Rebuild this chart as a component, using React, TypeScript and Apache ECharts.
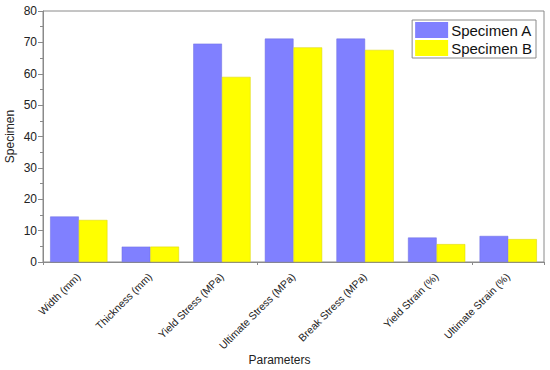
import React, { useEffect, useRef } from "react";
import * as echarts from "echarts";

const categories = [
  "Width (mm)",
  "Thickness (mm)",
  "Yield Stress (MPa)",
  "Ultimate Stress (MPa)",
  "Break Stress (MPa)",
  "Yield Strain (%)",
  "Ultimate Strain (%)",
];
const specimenA = [14.5, 4.9, 69.6, 71.2, 71.2, 7.8, 8.3];
const specimenB = [13.4, 4.9, 59.0, 68.4, 67.6, 5.7, 7.3];
const yTicks = { min: 0, max: 80, interval: 10 };

const FONT = "Liberation Sans, Arial, sans-serif";
const AXIS_COLOR = "#8a8a8a";

export default function App() {
  const ref = useRef<HTMLDivElement>(null);
  useEffect(() => {
    const chart = echarts.init(ref.current!, null, { renderer: "svg" });
    chart.setOption({
      animation: false,
      textStyle: { fontFamily: FONT },
      grid: {
        left: 43,
        right: 6,
        top: 11,
        bottom: 108,
        outerBoundsMode: "none",
        containLabel: false,
        show: true,
        borderColor: AXIS_COLOR,
        borderWidth: 1,
      },
      legend: {
        orient: "vertical",
        right: 14,
        top: 20,
        icon: "rect",
        itemWidth: 33,
        itemHeight: 16,
        itemGap: 2,
        padding: [2, 4, 2, 3],
        borderColor: AXIS_COLOR,
        borderWidth: 1,
        backgroundColor: "#fff",
        itemStyle: { borderWidth: 0 },
        textStyle: { fontSize: 15, color: "#111", fontFamily: FONT, padding: [0, 0, 0, -2] },
        data: ["Specimen A", "Specimen B"],
      },
      xAxis: [
        {
          type: "category",
          data: categories,
          name: "Parameters",
          nameLocation: "middle",
          nameGap: 92,
          nameMoveOverlap: false,
          nameTextStyle: { fontSize: 12, color: "#222", fontFamily: FONT, padding: [0, 28, 0, 0] },
          axisLine: { lineStyle: { color: AXIS_COLOR } },
          axisTick: { alignWithLabel: true, length: 5, lineStyle: { color: AXIS_COLOR } },
          axisLabel: { rotate: 45, fontSize: 10.5, color: "#222", margin: 13, interval: 0, fontFamily: FONT },
        },
        {
          type: "category",
          data: categories,
          position: "bottom",
          axisLine: { show: false },
          axisTick: { show: true, length: 3, lineStyle: { color: AXIS_COLOR } },
          axisLabel: { show: false },
        },
      ],
      yAxis: {
        type: "value",
        min: yTicks.min,
        max: yTicks.max,
        interval: yTicks.interval,
        name: "Specimen",
        nameLocation: "middle",
        nameGap: 27,
        nameMoveOverlap: false,
        nameTextStyle: { fontSize: 12, color: "#222", fontFamily: FONT },
        axisLine: { show: true, lineStyle: { color: AXIS_COLOR } },
        axisTick: { show: true, length: 5, lineStyle: { color: AXIS_COLOR } },
        minorTick: { show: true, splitNumber: 2, length: 3, lineStyle: { color: AXIS_COLOR } },
        splitLine: { show: false },
        axisLabel: { fontSize: 12, color: "#222", margin: 6, fontFamily: FONT },
      },
      series: [
        {
          name: "Specimen A",
          type: "bar",
          data: specimenA,
          barGap: "0%",
          barCategoryGap: "20%",
          itemStyle: { color: "#8080ff", borderColor: "#6a6ae0", borderWidth: 0.5 },
        },
        {
          name: "Specimen B",
          type: "bar",
          data: specimenB,
          barGap: "0%",
          barCategoryGap: "20%",
          itemStyle: { color: "#ffff00", borderColor: "#d8d000", borderWidth: 0.5 },
        },
      ],
    });
    return () => chart.dispose();
  }, []);
  return (
    <div
      ref={ref}
      style={{ position: "fixed", left: 0, top: 0, width: 550, height: 370, background: "#fff" }}
    />
  );
}
